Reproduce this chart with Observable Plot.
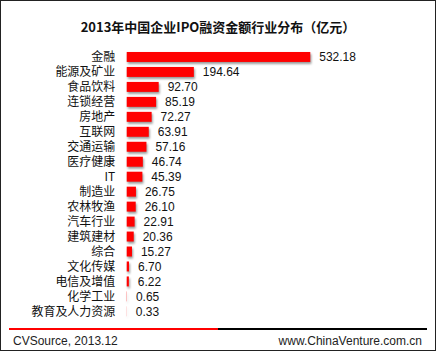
<!DOCTYPE html>
<html>
<head>
<meta charset="utf-8">
<script src="https://cdn.jsdelivr.net/npm/d3@7"></script>
<script src="https://cdn.jsdelivr.net/npm/@observablehq/plot@0.6"></script>
<style>
  body { margin: 0; background: #fff; }
  #wrap { position: relative; width: 436px; height: 351px; box-sizing: border-box; border: 1px solid #222; background: #fff; overflow: hidden; }
  #title { position: absolute; left: 0; top: 17px; width: 434px; text-align: center; font: bold 13px "Noto Sans CJK SC", sans-serif; line-height: 18px; color: #111; }
  #chart { position: absolute; left: -1px; top: 40px; }
  #chart svg .bars { filter: drop-shadow(1px 2px 1px rgba(0,0,0,0.4)); }
  .rule { position: absolute; top: 327px; height: 2px; }
  .foot { position: absolute; top: 333px; font: 12px "Liberation Sans", Arial, sans-serif; line-height: 14px; color: #222; }
</style>
</head>
<body>
<div id="wrap">
  <div id="title">2013年中国企业IPO融资金额行业分布（亿元）</div>
  <div id="chart"></div>
  <div class="rule" style="left:8px;width:210px;background:#ff0000"></div>
  <div class="rule" style="left:217px;width:209px;background:#000"></div>
  <div class="foot" style="left:12px">CVSource, 2013.12</div>
  <div class="foot" style="right:13px">www.ChinaVenture.com.cn</div>
</div>
<script>
const industries = ["金融", "能源及矿业", "食品饮料", "连锁经营", "房地产", "互联网", "交通运输", "医疗健康", "IT", "制造业", "农林牧渔", "汽车行业", "建筑建材", "综合", "文化传媒", "电信及增值", "化学工业", "教育及人力资源"];
const amounts = [532.18, 194.64, 92.70, 85.19, 72.27, 63.91, 57.16, 46.74, 45.39, 26.75, 26.10, 22.91, 20.36, 15.27, 6.70, 6.22, 0.65, 0.33];

const data = industries.map((name, i) => ({name, value: amounts[i]}));

const chart = Plot.plot({
  width: 436,
  height: 288,
  marginTop: 1.5,
  marginBottom: 2.6,
  marginLeft: 127,
  marginRight: 125,
  style: {background: "transparent", overflow: "visible"},
  x: {domain: [0, 532.18], axis: null},
  y: {domain: industries, padding: 0.35, label: null},
  marks: [
    Plot.barX(data, {y: "name", x: "value", fill: "#ff0000", className: "bars"}),
    Plot.text(data, {y: "name", x: "value", text: d => d.value.toFixed(2), dx: 8.5, textAnchor: "start", fill: "#111", fontSize: 12, fontFamily: "Liberation Sans, Arial, sans-serif"}),
    Plot.axisY({tickSize: 0, tickPadding: 12, fontSize: 12, fontFamily: "Noto Sans CJK SC, sans-serif", color: "#111", label: null})
  ]
});
document.getElementById("chart").appendChild(chart);
</script>
</body>
</html>
